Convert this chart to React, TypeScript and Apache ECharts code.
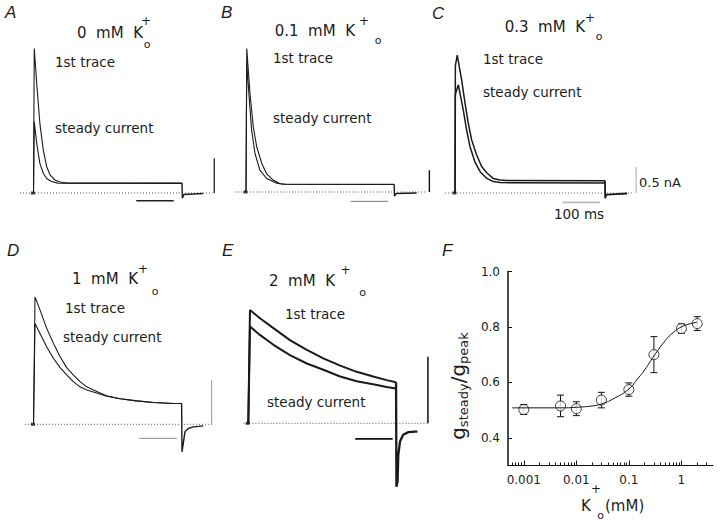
import React, { useEffect, useRef } from "react";
import * as echarts from "echarts";

type Pt = [number, number];

// ---------- Panels A–E : current traces (time in ms, current in nA) ----------
const traceA1: Pt[] = [[0, 0], [2, 2.78], [8.5, 2.11], [17, 1.34], [26, 0.83], [35, 0.51], [44, 0.35], [57, 0.25], [71, 0.21], [90, 0.19], [396, 0.19]];
const traceA2: Pt[] = [[0, 0], [2, 1.37], [8.5, 0.96], [17, 0.57], [26, 0.38], [35, 0.28], [48, 0.22], [65, 0.19], [396, 0.185]];
const tailA: Pt[] = [[396, 0.19], [397, -0.1], [401, -0.03], [452, -0.01]];

const traceB1: Pt[] = [[0, 0], [2, 2.76], [10.7, 1.89], [19.5, 1.25], [28.5, 0.87], [42, 0.55], [55, 0.35], [73, 0.225], [91, 0.16], [110, 0.15], [395, 0.15]];
const traceB2: Pt[] = [[0, 0], [2, 2.47], [9, 1.76], [15, 1.19], [24, 0.74], [37, 0.42], [55, 0.26], [82, 0.17], [100, 0.15], [395, 0.145]];
const tailB: Pt[] = [[395, 0.15], [396, -0.08], [400, -0.03], [455, -0.02]];

const traceC1: Pt[] = [[0, 0], [1, 2.45], [6, 2.65], [17.8, 2.17], [26.7, 1.73], [35.5, 1.34], [44.4, 1.02], [57.8, 0.73], [71, 0.51], [84.5, 0.39], [102, 0.28], [120, 0.25], [138, 0.24], [400, 0.235]];
const traceC2: Pt[] = [[0, 0], [1, 1.9], [8.9, 2.08], [22, 1.6], [31, 1.21], [40, 0.89], [53, 0.6], [67, 0.41], [85, 0.28], [102, 0.22], [120, 0.2], [400, 0.19]];
const tailC: Pt[] = [[400, 0.235], [400.5, -0.1], [404, -0.03], [459, -0.01]];

const traceD1: Pt[] = [[0, 0], [4, 2.45], [17.3, 2.2], [35, 1.85], [53, 1.56], [71, 1.3], [88.5, 1.09], [106, 0.95], [124, 0.82], [142, 0.72], [168.5, 0.63], [195, 0.55], [231, 0.49], [275, 0.45], [320, 0.42], [373, 0.4], [395, 0.4]];
const traceD2: Pt[] = [[0, 0], [4, 1.94], [17, 1.75], [35, 1.49], [53, 1.27], [71, 1.09], [88.5, 0.95], [106, 0.82], [124, 0.72], [142, 0.66], [168.5, 0.6], [195, 0.54], [231, 0.49], [275, 0.45], [320, 0.42], [373, 0.4], [395, 0.4]];
const tailD: Pt[] = [[395, 0.4], [396, -0.53], [404, -0.14], [413, -0.08], [426, -0.05], [453, -0.03]];

const traceE1: Pt[] = [[0, 0], [4.5, 2.18], [31, 2.02], [67, 1.83], [111, 1.6], [156, 1.41], [200, 1.25], [245, 1.11], [289, 0.99], [333, 0.9], [369, 0.83], [394, 0.79]];
const traceE2: Pt[] = [[0, 0], [4.5, 1.86], [31, 1.7], [67, 1.51], [111, 1.31], [156, 1.15], [200, 1.03], [245, 0.9], [289, 0.81], [333, 0.75], [369, 0.7], [394, 0.67]];
const tailE: Pt[] = [[394, 0.79], [395, -1.22], [398, -1.12], [400, -0.61], [404.5, -0.35], [413, -0.22], [427, -0.17], [445, -0.16], [451, -0.16]];

// zero-current baselines (start, end in ms)
const baseA: Pt[] = [[-36, 0], [478, 0]];
const baseB: Pt[] = [[-29, 0], [482, 0]];
const baseC: Pt[] = [[-27, 0], [475, 0]];
const baseD: Pt[] = [[-23, 0], [475, 0]];
const baseE: Pt[] = [[-13, 0], [480, 0]];

// calibration bars (vertical: current, horizontal: 100 ms)
const vbarA: Pt[] = [[482, 0], [482, 0.67]];
const vbarB: Pt[] = [[489, 0], [489, 0.42]];
const vbarC: Pt[] = [[483, 0], [483, 0.5]];
const vbarD: Pt[] = [[475, 0], [475, 0.85]];
const vbarE: Pt[] = [[479, 0], [479, 1.28]];
const hbarA: Pt[] = [[274, -0.15], [374, -0.15]];
const hbarB: Pt[] = [[279, -0.18], [379, -0.18]];
const hbarC: Pt[] = [[287, -0.18], [387, -0.18]];
const hbarD: Pt[] = [[282, -0.27], [382, -0.27]];
const hbarE: Pt[] = [[285, -0.3], [385, -0.3]];

// ---------- Panel F : g_steady / g_peak vs K+o ----------
const kValues = [0.001, 0.005, 0.01, 0.03, 0.1, 0.3, 1, 2];
const ratioValues = [0.502, 0.515, 0.505, 0.536, 0.574, 0.7, 0.794, 0.812];
const ratioErrors = [0.018, 0.039, 0.025, 0.028, 0.024, 0.065, 0.017, 0.025];
const fitK = [0.0006, 0.001, 0.005, 0.01, 0.02, 0.03, 0.05, 0.1, 0.15, 0.2, 0.3, 0.5, 0.7, 1, 1.5, 2];
const fitRatio = [0.508, 0.508, 0.508, 0.51, 0.515, 0.522, 0.54, 0.576, 0.615, 0.645, 0.695, 0.752, 0.78, 0.8, 0.812, 0.817];
const xTickValues = [0.001, 0.01, 0.1, 1];
const xTickLabels = ["0.001", "0.01", "0.1", "1"];
const yTickValues = [0.4, 0.6, 0.8, 1.0];
const yTickLabels = ["0.4", "0.6", "0.8", "1.0"];
const kMin = 0.0005;
const kMax = 4;

// ---------- layout ----------
const PX_PER_MS = 0.375;
const PX_PER_NA = 52;
const T_MIN = -60, T_MAX = 520, I_MIN = -1.5, I_MAX = 3.0;
const FONT = "DejaVu Sans";
const INK = "#1a1a1a";

const panels = [
  { x0: 33.5, y0: 193, first: traceA1, steady: traceA2, tail: tailA, base: baseA, vbar: vbarA, hbar: hbarA, lw: 1.1,
    vStyle: { color: "#111", width: 1.2 }, hStyle: { color: "#222", width: 1.6 } },
  { x0: 246, y0: 192, first: traceB1, steady: traceB2, tail: tailB, base: baseB, vbar: vbarB, hbar: hbarB, lw: 1.1,
    vStyle: { color: "#111", width: 1.4 }, hStyle: { color: "#777", width: 1 } },
  { x0: 455, y0: 193, first: traceC1, steady: traceC2, tail: tailC, base: baseC, vbar: vbarC, hbar: hbarC, lw: 1.5,
    vStyle: { color: "#aaa", width: 1 }, hStyle: { color: "#bbb", width: 1.6 } },
  { x0: 33.5, y0: 424.3, first: traceD1, steady: traceD2, tail: tailD, base: baseD, vbar: vbarD, hbar: hbarD, lw: 1.1,
    vStyle: { color: "#999", width: 1 }, hStyle: { color: "#888", width: 1 } },
  { x0: 248.3, y0: 423.3, first: traceE1, steady: traceE2, tail: tailE, base: baseE, vbar: vbarE, hbar: hbarE, lw: 2,
    vStyle: { color: "#111", width: 1.5 }, hStyle: { color: "#111", width: 1.6 } },
];

function txt(text: string, x: number, y: number, size: number, align = "left", extra: any = {}) {
  return {
    type: "text", x, y, silent: true, z: 20,
    style: {
      text, fill: "#1c1c1c", fontSize: size, fontFamily: FONT,
      textAlign: align, textVerticalAlign: "middle", align, verticalAlign: "middle", ...extra,
    },
  };
}

function title(main: string, kRight: number, cy: number, plus: Pt, sub: Pt) {
  return [
    txt(main, kRight, cy, 15, "right"),
    txt("+", plus[0], plus[1], 12, "center"),
    txt("o", sub[0], sub[1], 11, "center"),
  ];
}

function letter(l: string, x: number, y: number) {
  return txt(l, x, y, 17, "left", { fontStyle: "italic", fontFamily: "Liberation Sans" });
}

function buildOption(): any {
  const grid: any[] = [];
  const xAxis: any[] = [];
  const yAxis: any[] = [];
  const series: any[] = [];

  panels.forEach((p, i) => {
    grid.push({
      left: p.x0 + T_MIN * PX_PER_MS,
      top: p.y0 - I_MAX * PX_PER_NA,
      width: (T_MAX - T_MIN) * PX_PER_MS,
      height: (I_MAX - I_MIN) * PX_PER_NA,
    });
    xAxis.push({ type: "value", gridIndex: i, min: T_MIN, max: T_MAX, show: false });
    yAxis.push({ type: "value", gridIndex: i, min: I_MIN, max: I_MAX, show: false });
    const line = (data: Pt[], ls: any, z = 3) => ({
      type: "line", xAxisIndex: i, yAxisIndex: i, data, showSymbol: false, symbol: "none",
      silent: true, z, lineStyle: ls,
    });
    series.push(line(p.base, { color: "#555", width: 1, type: [1, 2] }, 1));
    series.push(line(p.vbar, { color: p.vStyle.color, width: p.vStyle.width }, 2));
    series.push(line(p.hbar, { color: p.hStyle.color, width: p.hStyle.width }, 2));
    series.push(line(p.steady, { color: INK, width: p.lw }));
    series.push(line(p.first, { color: INK, width: p.lw }));
    series.push(line(p.tail, { color: INK, width: p.lw + 0.3 }));
    series.push({
      type: "scatter", xAxisIndex: i, yAxisIndex: i, data: [[-1.5, 0]], symbol: "rect",
      symbolSize: [4, 3], itemStyle: { color: "#111" }, silent: true, z: 4,
    });
  });

  // Panel F
  const fi = 5;
  grid.push({ left: 508, top: 271.5, width: 205, height: 194 });
  const lx = (v: number) => Math.log10(v);
  const minorTicks: number[] = [];
  for (let d = -4; d <= 0; d++) {
    for (let m = 2; m <= 9; m++) {
      const v = m * Math.pow(10, d);
      if (v > kMin && v < kMax) minorTicks.push(lx(v));
    }
  }
  xAxis.push({
    type: "value", gridIndex: fi, position: "bottom", min: lx(kMin), max: lx(kMax),
    axisLine: { show: true, onZero: false, lineStyle: { color: "#111", width: 1 } },
    axisTick: { show: true, inside: true, length: 5, customValues: xTickValues.map(lx), lineStyle: { color: "#111" } },
    axisLabel: {
      show: true, customValues: xTickValues.map(lx), margin: 8, color: "#1c1c1c", fontSize: 12, fontFamily: FONT,
      formatter: (v: number) => {
        const j = xTickValues.findIndex((t) => Math.abs(lx(t) - v) < 1e-6);
        return j >= 0 ? xTickLabels[j] : "";
      },
    },
    splitLine: { show: false },
  });
  xAxis.push({
    type: "value", gridIndex: fi, position: "bottom", offset: 0, min: lx(kMin), max: lx(kMax),
    axisLine: { show: false, onZero: false },
    axisTick: { show: true, inside: true, length: 3, customValues: minorTicks, lineStyle: { color: "#111" } },
    axisLabel: { show: false },
    splitLine: { show: false },
  });
  yAxis.push({
    type: "value", gridIndex: fi, position: "left", min: 0.3, max: 1.0,
    axisLine: { show: true, onZero: false, lineStyle: { color: "#111", width: 1.5 } },
    axisTick: { show: true, inside: true, length: 4, customValues: yTickValues, lineStyle: { color: "#111" } },
    axisLabel: {
      show: true, customValues: yTickValues, margin: 8, color: "#1c1c1c", fontSize: 12, fontFamily: FONT,
      formatter: (v: number) => {
        const j = yTickValues.findIndex((t) => Math.abs(t - v) < 1e-6);
        return j >= 0 ? yTickLabels[j] : "";
      },
    },
    splitLine: { show: false },
  });

  series.push({
    type: "custom", xAxisIndex: fi, yAxisIndex: fi, z: 2, silent: true,
    data: kValues.map((k, j) => [lx(k), ratioValues[j], ratioErrors[j]]),
    renderItem: (_params: any, api: any) => {
      const x = api.value(0), y = api.value(1), e = api.value(2);
      const hi = api.coord([x, y + e]);
      const lo = api.coord([x, y - e]);
      const c = 3.5;
      const st = { stroke: "#111", lineWidth: 1 };
      return {
        type: "group",
        children: [
          { type: "line", shape: { x1: hi[0], y1: hi[1], x2: lo[0], y2: lo[1] }, style: st },
          { type: "line", shape: { x1: hi[0] - c, y1: hi[1], x2: hi[0] + c, y2: hi[1] }, style: st },
          { type: "line", shape: { x1: lo[0] - c, y1: lo[1], x2: lo[0] + c, y2: lo[1] }, style: st },
        ],
      };
    },
  });
  series.push({
    type: "scatter", xAxisIndex: fi, yAxisIndex: fi, z: 3, silent: true,
    data: kValues.map((k, j) => [lx(k), ratioValues[j]]),
    symbol: "circle", symbolSize: 10,
    itemStyle: { color: "#fff", borderColor: "#111", borderWidth: 1 },
  });
  series.push({
    type: "line", xAxisIndex: fi, yAxisIndex: fi, z: 4, silent: true, smooth: true,
    data: fitK.map((k, j) => [lx(k), fitRatio[j]]),
    showSymbol: false, symbol: "none", lineStyle: { color: "#111", width: 1 },
  });

  const graphics: any[] = [
    letter("A", 5, 12), letter("B", 221, 12), letter("C", 432, 13),
    letter("D", 7, 250), letter("E", 222, 250), letter("F", 442, 250),
    ...title("0  mM  K", 143, 32.5, [146, 21], [147, 44]),
    ...title("0.1  mM  K", 355, 31, [364, 21], [378, 40]),
    ...title("0.3  mM  K", 585, 26.7, [590, 17.5], [599, 36.5]),
    ...title("1  mM  K", 138, 279, [143, 268.5], [155, 291.5]),
    ...title("2  mM  K", 335, 281, [345.5, 270], [362.5, 292.5]),
    txt("1st trace", 55, 62, 13.5), txt("steady current", 55, 128, 13.5),
    txt("1st trace", 273, 58, 13.5), txt("steady current", 273, 118, 13.5),
    txt("1st trace", 483, 59, 13.5), txt("steady current", 483, 92, 13.5),
    txt("1st trace", 65, 307.5, 13.5), txt("steady current", 63, 337, 13.5),
    txt("1st trace", 285, 314, 13.5), txt("steady current", 267, 402, 13.5),
    txt("0.5 nA", 639, 182.5, 13), txt("100 ms", 579, 213.5, 13.5, "center"),
    // F axis names
    txt("K", 581, 506, 15), txt("+", 596, 489, 12, "center"), txt("o", 600.5, 515, 11, "center"),
    txt("(mM)", 605, 506, 15),
    {
      type: "text", x: 458, y: 386, rotation: Math.PI / 2, silent: true, z: 20,
      style: {
        text: "{g|g}{s|steady}{g|/g}{s|peak}",
        textAlign: "center", textVerticalAlign: "middle", align: "center", verticalAlign: "middle",
        fill: "#1c1c1c",
        rich: {
          g: { fontSize: 20, fontFamily: FONT, lineHeight: 24, fill: "#1c1c1c", color: "#1c1c1c" },
          s: { fontSize: 13, fontFamily: FONT, lineHeight: 13, verticalAlign: "bottom", fill: "#1c1c1c", color: "#1c1c1c" },
        },
      },
    },
  ];

  return {
    animation: false,
    backgroundColor: "#fff",
    grid, xAxis, yAxis, series,
    graphic: { elements: graphics },
  };
}

export default function App() {
  const ref = useRef<HTMLDivElement>(null);
  useEffect(() => {
    if (!ref.current) return;
    const chart = echarts.init(ref.current, null, { renderer: "svg" });
    chart.setOption(buildOption());
    return () => chart.dispose();
  }, []);
  return (
    <div
      ref={ref}
      style={{ position: "absolute", left: 0, top: 0, width: 720, height: 528, background: "#fff" }}
    />
  );
}
